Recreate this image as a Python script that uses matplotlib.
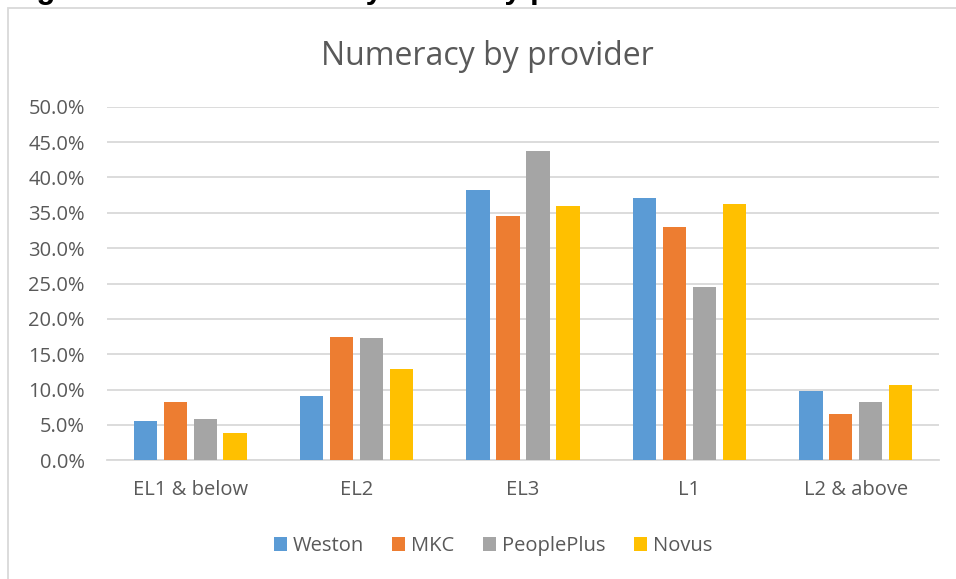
import numpy as np
import matplotlib.pyplot as plt
from matplotlib.patches import Rectangle
from matplotlib.ticker import PercentFormatter

# values (fraction of learners)
categories = ['EL1 & below', 'EL2', 'EL3', 'L1', 'L2 & above']
providers = ['Weston', 'MKC', 'PeoplePlus', 'Novus']
weston = [0.056, 0.0905, 0.382, 0.371, 0.098]
mkc = [0.082, 0.175, 0.345, 0.330, 0.0655]
peopleplus = [0.059, 0.173, 0.438, 0.245, 0.0825]
novus = [0.039, 0.129, 0.360, 0.363, 0.106]
yticks = [0.0, 0.05, 0.10, 0.15, 0.20, 0.25, 0.30, 0.35, 0.40, 0.45, 0.50]

colors = ['#5B9BD5', '#ED7D31', '#A5A5A5', '#FFC000']
text_col = '#595959'
grid_col = '#D9D9D9'

plt.rcParams['font.family'] = ['Open Sans', 'DejaVu Sans']

W, H = 956, 579
fig = plt.figure(figsize=(W / 100, H / 100), dpi=100)

# chart frame (cut off on the right and bottom in the original)
fig.patches.append(Rectangle((8 / W, -0.05), 1.1, 1 - 8 / H + 0.05,
                             transform=fig.transFigure, fill=False,
                             edgecolor=grid_col, linewidth=1.3))

# caption above the chart, mostly cropped away (only descenders show)
fig.text(9 / W, 1 + 2 / H, 'Figure 4: Initial numeracy levels by provider',
         fontsize=22.2, fontweight='bold', color='black', va='baseline',
         family=['Liberation Sans', 'DejaVu Sans'])

ax = fig.add_axes([107 / W, (H - 460.3) / H, (939 - 107) / W, (460.3 - 106.7) / H])

x = np.arange(len(categories))
series = [weston, mkc, peopleplus, novus]
pitch = 0.18
for i, (name, vals) in enumerate(zip(providers, series)):
    ax.bar(x + (i - 1.5) * pitch, vals, width=0.14, color=colors[i],
           label=name, zorder=3)

ax.set_xlim(-0.5, len(categories) - 0.5)
ax.set_ylim(0, 0.5)
ax.set_yticks(yticks)
ax.yaxis.set_major_formatter(PercentFormatter(1.0, decimals=1))
ax.set_xticks(x)
ax.set_xticklabels(categories)
ax.grid(axis='y', color=grid_col, linewidth=1.3, zorder=0)
for s in ['top', 'right', 'left']:
    ax.spines[s].set_visible(False)
ax.spines['bottom'].set_color(grid_col)
ax.spines['bottom'].set_linewidth(1.3)
ax.tick_params(axis='both', length=0, colors=text_col, labelsize=14.5)
ax.tick_params(axis='y', pad=16)
ax.tick_params(axis='x', pad=14)

fig.text(487 / W, 1 - 65 / H, 'Numeracy by provider', fontsize=23,
         color=text_col, ha='center', va='baseline')

leg = fig.legend(loc='center', bbox_to_anchor=(493 / W, 1 - 546 / H), ncol=4,
                 frameon=False, fontsize=14.5, handlelength=0.65,
                 handleheight=0.65, handletextpad=0.3, columnspacing=1.4)
for t in leg.get_texts():
    t.set_color(text_col)

fig.savefig('out.png', dpi=100)
